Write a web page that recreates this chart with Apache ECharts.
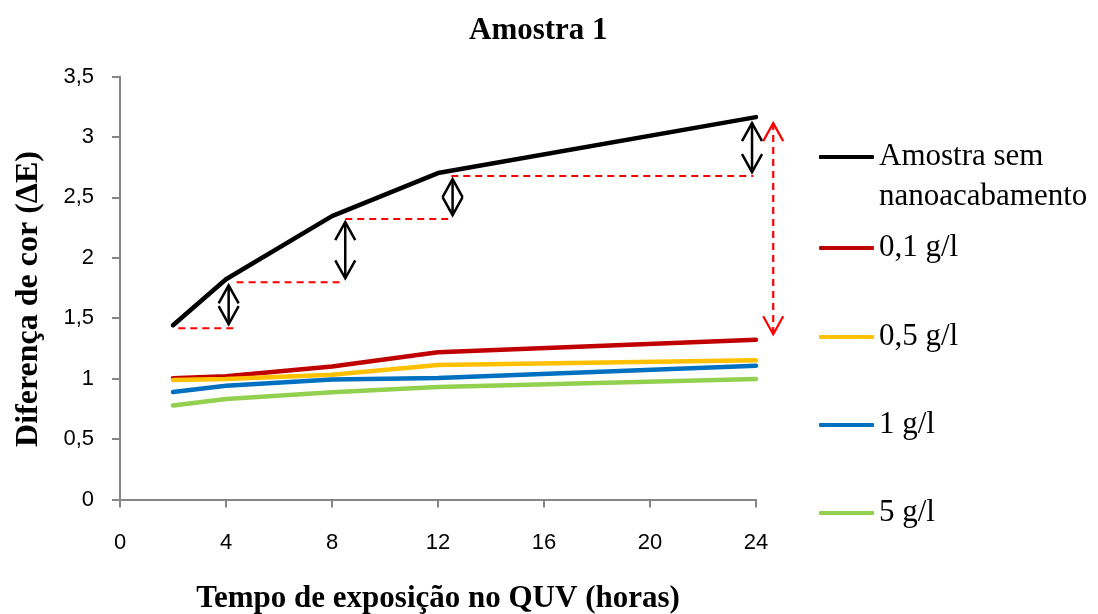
<!DOCTYPE html>
<html>
<head>
<meta charset="utf-8">
<script src="https://cdn.jsdelivr.net/npm/echarts@6/dist/echarts.min.js"></script>
<style>
  html, body { margin: 0; padding: 0; background: #ffffff; }
  #chart { width: 1098px; height: 614px; }
</style>
</head>
<body>
<div id="chart"></div>
<script>
// Exposure time (hours) and colour difference ΔE per treatment
const hours = [2, 4, 8, 12, 24];
const semNano = [1.442, 1.822, 2.345, 2.701, 3.164];
const g01 = [1.003, 1.019, 1.10, 1.218, 1.322];
const g05 = [0.989, 0.997, 1.033, 1.113, 1.152];
const g1 = [0.89, 0.942, 0.992, 1.006, 1.107];
const g5 = [0.777, 0.832, 0.887, 0.931, 0.997];

const seriesNames = ['Amostra sem nanoacabamento', '0,1 g/l', '0,5 g/l', '1 g/l', '5 g/l'];
const seriesValues = [semNano, g01, g05, g1, g5];
const seriesColors = ['#000000', '#C00000', '#FFC000', '#0070C0', '#92D050'];

// Step annotations on the untreated sample (x positions in hours)
const stepStartX = [2.2, 4.4, 8.5, 12.5];
const stepEndX = [4.45, 8.4, 12.45, 23.9];
const stepArrowX = [4.1, 8.5, 12.55, 23.85];
const totalArrowX = 24.65;

const serif = 'Liberation Serif, Times New Roman, serif';
const sans = 'Liberation Sans, Arial, sans-serif';

const chart = echarts.init(document.getElementById('chart'), null, { renderer: 'canvas' });

// One legend block per series so each entry sits at its own height
const legendTops = [97, 228, 317, 405, 493];
const legends = seriesNames.map((name, i) => ({
  show: true,
  orient: 'vertical',
  left: 819,
  top: legendTops[i],
  padding: 0,
  itemWidth: 55,
  itemHeight: 4,
  icon: 'roundRect',
  selectedMode: false,
  data: [name],
  // leading blank line keeps the icon level with the first text line
  formatter: n => (n === 'Amostra sem nanoacabamento' ? ' \nAmostra sem\nnanoacabamento' : n),
  textStyle: {
    fontFamily: serif,
    fontSize: 31,
    color: '#000',
    lineHeight: 40
  }
}));

chart.setOption({
  animation: false,
  backgroundColor: '#ffffff',
  title: {
    text: 'Amostra 1',
    left: 464,
    top: 10,
    textStyle: { fontFamily: serif, fontSize: 31, fontWeight: 'bold', color: '#000' }
  },
  legend: legends,
  grid: { left: 120, right: 342, top: 76.5, bottom: 114.5, containLabel: false, outerBoundsMode: 'none' },
  xAxis: {
    type: 'value',
    min: 0,
    max: 24,
    interval: 4,
    name: 'Tempo de exposição no QUV (horas)',
    nameLocation: 'middle',
    nameGap: 84,
    nameTextStyle: { fontFamily: serif, fontSize: 31, fontWeight: 'bold', color: '#000' },
    axisLine: { show: true, lineStyle: { color: '#868686', width: 2 } },
    axisTick: { show: true, length: 8, lineStyle: { color: '#868686', width: 2 } },
    axisLabel: { fontFamily: sans, fontSize: 22, color: '#000', margin: 32 },
    splitLine: { show: false }
  },
  yAxis: {
    type: 'value',
    min: 0,
    max: 3.5,
    interval: 0.5,
    name: 'Diferença de cor (ΔE)',
    nameLocation: 'middle',
    nameGap: 75,
    nameTextStyle: { fontFamily: serif, fontSize: 32, fontWeight: 'bold', color: '#000', padding: [0, 22, 0, 0] },
    axisLine: { show: true, lineStyle: { color: '#868686', width: 2 } },
    axisTick: { show: true, length: 8, lineStyle: { color: '#868686', width: 2 } },
    axisLabel: {
      fontFamily: sans, fontSize: 22, color: '#000', margin: 26,
      formatter: v => String(v).replace('.', ',')
    },
    splitLine: { show: false }
  },
  series: seriesNames.map((name, i) => ({
    name,
    type: 'line',
    data: hours.map((h, k) => [h, seriesValues[i][k]]),
    showSymbol: false,
    symbol: 'none',
    color: seriesColors[i],
    lineStyle: { color: seriesColors[i], width: 4.5, cap: 'round', join: 'round' },
    z: 2 + i
  }))
});

// Arrow and guide-line overlay, placed through the chart's own scales
function px(x, y) { return chart.convertToPixel({ gridIndex: 0 }, [x, y]); }

function doubleArrow(x, yTop, yBot, color, dashed, width) {
  const head = 18, half = 10;
  const st = { stroke: color, lineWidth: width, fill: null };
  return [
    { type: 'line', shape: { x1: x, y1: yTop, x2: x, y2: yBot },
      style: Object.assign({}, st, dashed ? { lineDash: [7, 5] } : {}), z: 20 },
    { type: 'polyline', shape: { points: [[x - half, yTop + head], [x, yTop], [x + half, yTop + head]] },
      style: st, z: 20 },
    { type: 'polyline', shape: { points: [[x - half, yBot - head], [x, yBot], [x + half, yBot - head]] },
      style: st, z: 20 }
  ];
}

const overlay = [];
for (let i = 0; i < stepStartX.length; i++) {
  const a = px(stepStartX[i], semNano[i]);
  const b = px(stepEndX[i], semNano[i]);
  overlay.push({
    type: 'line',
    shape: { x1: a[0], y1: a[1] + 3, x2: b[0], y2: b[1] + 3 },
    style: { stroke: '#FF0000', lineWidth: 2, lineDash: [7, 5] },
    z: 15
  });
  const ax = px(stepArrowX[i], 0)[0];
  const top = px(stepArrowX[i], semNano[i + 1])[1] + 6;
  const bot = px(stepArrowX[i], semNano[i])[1] - 1;
  overlay.push(...doubleArrow(ax, top, bot, '#000000', false, 2.5));
}
{
  const rx = px(totalArrowX, 0)[0];
  const top = px(totalArrowX, semNano[semNano.length - 1])[1] + 6;
  const bot = px(totalArrowX, semNano[0])[1] + 9;
  overlay.push(...doubleArrow(rx, top, bot, '#FF0000', true, 2.2));
}
chart.setOption({ graphic: overlay });
</script>
</body>
</html>
